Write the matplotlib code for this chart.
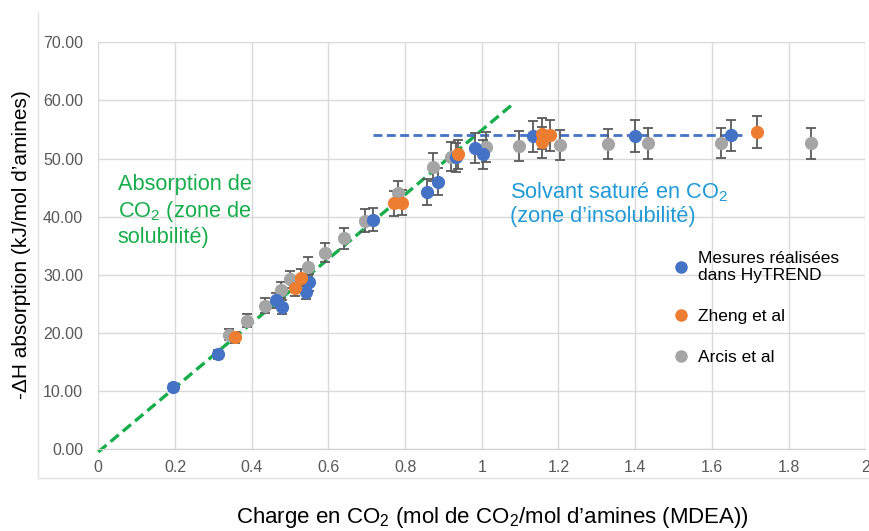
import matplotlib

matplotlib.use("Agg")
import matplotlib.pyplot as plt  # noqa: E402
import numpy as np  # noqa: E402
from matplotlib.lines import Line2D  # noqa: E402

plt.rcParams["font.family"] = ["Liberation Sans", "DejaVu Sans"]
plt.rcParams["mathtext.fontset"] = "custom"
plt.rcParams["mathtext.rm"] = "Liberation Sans"
plt.rcParams["mathtext.it"] = "Liberation Sans:italic"

# Mesures HyTREND
hytrend_x = [0.194, 0.311, 0.463, 0.479, 0.542, 0.549, 0.717, 0.858, 0.885,
             0.932, 0.982, 1.004, 1.134, 1.400, 1.650]
hytrend_y = [10.6, 16.3, 25.6, 24.4, 27.1, 28.7, 39.5, 44.2, 46.0,
             50.2, 51.8, 50.7, 53.8, 53.9, 54.0]

# Zheng et al
zheng_x = [0.356, 0.514, 0.528, 0.772, 0.791, 0.939, 1.156, 1.156, 1.178, 1.717]
zheng_y = [19.2, 27.7, 29.5, 42.3, 42.4, 50.7, 54.3, 52.8, 54.0, 54.6]

# Arcis et al
arcis_x = [0.342, 0.387, 0.436, 0.477, 0.501, 0.548, 0.591, 0.640, 0.695,
           0.782, 0.872, 0.921, 1.011, 1.097, 1.204, 1.330, 1.433, 1.625, 1.858]
arcis_y = [19.7, 22.1, 24.7, 27.4, 29.2, 31.4, 33.8, 36.3, 39.3,
           44.0, 48.5, 50.3, 52.0, 52.2, 52.3, 52.5, 52.6, 52.7, 52.6]

rel_err = 0.05  # barres d'erreur a 5 %

# droites de tendance
solub_x = [0.0, 1.078]
solub_y = [-0.5, 59.2]
sat_x = [0.717, 1.678]
sat_y = [54.0, 54.0]

x_ticks = [0, 0.2, 0.4, 0.6, 0.8, 1, 1.2, 1.4, 1.6, 1.8, 2]
x_tick_labels = ["0", "0.2", "0.4", "0.6", "0.8", "1", "1.2", "1.4", "1.6", "1.8", "2"]
y_ticks = [0, 10, 20, 30, 40, 50, 60, 70]

BLUE = "#4472C4"
ORANGE = "#ED7D31"
GRAY = "#A5A5A5"
GREEN = "#16AE4B"
LIGHT_BLUE = "#1E9AD6"
ERR = "#5a5a5a"

fig = plt.figure(figsize=(8.69, 5.31), dpi=100)
ax = fig.add_axes([0.1131, 0.1544, 0.8826, 0.7659])

ax.set_xlim(0, 2)
ax.set_ylim(0, 70)
ax.set_xticks(x_ticks)
ax.set_xticklabels(x_tick_labels)
ax.set_yticks(y_ticks)
ax.set_yticklabels([f"{v:.2f}" for v in y_ticks])
ax.tick_params(length=0, colors="#595959", labelsize=11.5)
ax.tick_params(axis="y", pad=11)
ax.tick_params(axis="x", pad=8)
ax.grid(True, color="#d9d9d9", linewidth=1.0)
ax.set_axisbelow(True)
for side in ["left", "top", "right"]:
    ax.spines[side].set_visible(False)
ax.spines["bottom"].set_color("#d0d0d0")

ax.plot(solub_x, solub_y, color=GREEN, linestyle=(0, (3.2, 1.6)), linewidth=2.4,
        clip_on=False, zorder=2)
ax.plot(sat_x, sat_y, color=BLUE, linestyle=(0, (3.2, 1.6)), linewidth=2.0, zorder=2)

for xs, ys, color in [(arcis_x, arcis_y, GRAY), (hytrend_x, hytrend_y, BLUE),
                      (zheng_x, zheng_y, ORANGE)]:
    ys = np.array(ys)
    ax.errorbar(xs, ys, yerr=rel_err * ys, fmt="o", color=color, markersize=8.5,
                ecolor=ERR, elinewidth=1.3, capsize=3.8, capthick=1.3, zorder=3)

ax.text(0.051, 47.3, "Absorption de\nCO$_2$ (zone de\nsolubilité)", color=GREEN,
        fontsize=15.7, va="top", ha="left", linespacing=1.2)
ax.text(1.073, 46.3, "Solvant saturé en CO$_2$\n(zone d’insolubilité)", color=LIGHT_BLUE,
        fontsize=15.7, va="top", ha="left", linespacing=1.15)

handles = [
    Line2D([], [], marker="o", linestyle="none", color=BLUE, markersize=8),
    Line2D([], [], marker="o", linestyle="none", color=ORANGE, markersize=8),
    Line2D([], [], marker="o", linestyle="none", color=GRAY, markersize=8),
]
labels = ["Mesures réalisées\ndans HyTREND", "Zheng et al", "Arcis et al"]
ax.legend(handles, labels, loc="upper left", bbox_to_anchor=(0.74, 0.505),
          frameon=False, fontsize=12.5, labelspacing=1.5, handletextpad=0.45,
          handlelength=1.0, borderaxespad=0)

fig.text(22 / 869, 1 - 245 / 531, "-ΔH absorption (kJ/mol d’amines)", fontsize=15,
         rotation=90, ha="center", va="center")
fig.text(492 / 869, 1 - 517 / 531, "Charge en CO$_2$ (mol de CO$_2$/mol d’amines (MDEA))",
         fontsize=16, ha="center", va="center")

# cadre de la zone de graphique
fig.add_artist(Line2D([38 / 869, 38 / 869], [1 - 12 / 531, 1 - 478 / 531],
                      color="#e3e3e3", linewidth=1.0))
fig.add_artist(Line2D([38 / 869, 1.0], [1 - 478 / 531, 1 - 478 / 531],
                      color="#e3e3e3", linewidth=1.0))

fig.savefig("out.png", dpi=100)
